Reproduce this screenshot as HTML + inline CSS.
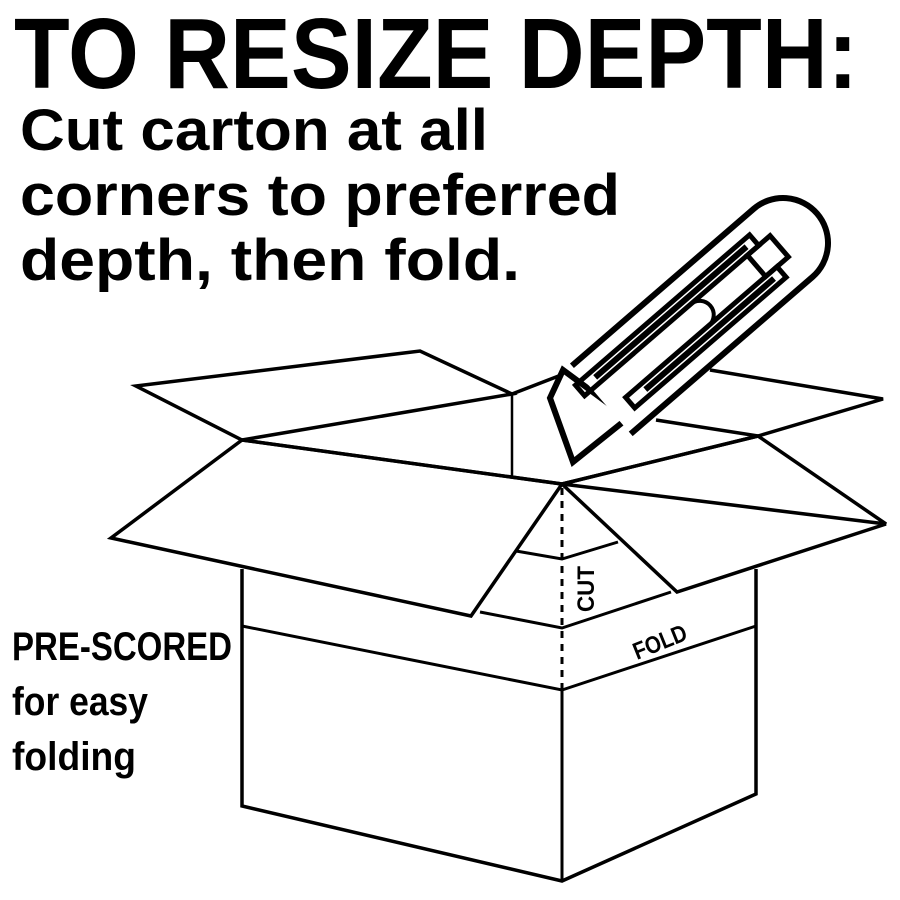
<!DOCTYPE html>
<html><head><meta charset="utf-8"><style>html,body{margin:0;padding:0;background:#fff;overflow:hidden}svg{display:block}</style></head>
<body>
<svg width="900" height="900" viewBox="0 0 900 900" xmlns="http://www.w3.org/2000/svg">
<g font-family="Liberation Sans, sans-serif" font-weight="bold" fill="#000">
<text x="14" y="88" font-size="100" textLength="844" lengthAdjust="spacingAndGlyphs">TO RESIZE DEPTH:</text>
<text x="20" y="150" font-size="58" textLength="468" lengthAdjust="spacingAndGlyphs">Cut carton at all</text>
<text x="20" y="215" font-size="58" textLength="600" lengthAdjust="spacingAndGlyphs">corners to preferred</text>
<text x="20" y="280" font-size="58" textLength="500" lengthAdjust="spacingAndGlyphs">depth, then fold.</text>
<text x="12" y="660" font-size="40" textLength="220" lengthAdjust="spacingAndGlyphs">PRE-SCORED</text>
<text x="12" y="715" font-size="40" textLength="136" lengthAdjust="spacingAndGlyphs">for easy</text>
<text x="12" y="770" font-size="40" textLength="124" lengthAdjust="spacingAndGlyphs">folding</text>
<text transform="translate(594,612) rotate(-90)" font-size="24" textLength="46" lengthAdjust="spacingAndGlyphs">CUT</text>
<text transform="translate(637,660) rotate(-22)" font-size="24" textLength="56" lengthAdjust="spacingAndGlyphs">FOLD</text>
</g>
<g fill="none" stroke="#000" stroke-width="3.5" stroke-linejoin="miter">
<polygon points="136,386 420,351 512,394 242,440" fill="#fff"/>
<polyline points="710,370 883,399 758,436 656,420"/>
<line x1="512" y1="394" x2="569" y2="372"/>
<line x1="512" y1="394" x2="512" y2="478" stroke-width="2.5"/>
<line x1="242" y1="440" x2="562" y2="484"/>
<line x1="562" y1="484" x2="758" y2="436"/>
<polyline points="242,569 242,806 562,881 756,794 756,569"/>
<line x1="562" y1="690" x2="562" y2="881" stroke-width="3"/>
<polyline points="242,626 562,690 756,626" stroke-width="3"/>
<polyline points="480,612 562,628 671,592" stroke-width="3"/>
<polyline points="516,551 562,559 618,542" stroke-width="3"/>
<line x1="562" y1="488" x2="562" y2="690" stroke-width="3" stroke-dasharray="7,6"/>
<polygon points="242,440 111,538 471,616 562,484"/>
<polygon points="562,484 886,524 758,436"/>
<polyline points="562,484 677,592 886,524"/>
</g>
<polygon points="563,370 550,398 573,462 628,418" fill="#fff" stroke="#000" stroke-width="6"/>
<g transform="translate(783,243) rotate(139.2)" fill="none" stroke="#000" stroke-width="6">
<path d="M240,-45 L0,-45 A45,45 0 0 0 0,45 L240,45" fill="#fff"/>
<rect x="20" y="-28" width="200" height="14" stroke-width="5"/>
<rect x="30" y="-24" width="170" height="6" fill="#000" stroke="none"/>
<rect x="20" y="14" width="230" height="14" stroke-width="5"/>
<rect x="30" y="18" width="200" height="6" fill="#000" stroke="none"/>
<rect x="5" y="-14" width="30" height="28" stroke-width="5"/>
<path d="M110,-14 A14,14 0 0 0 110,14" stroke-width="4"/>
</g>
</svg>
</body></html>
